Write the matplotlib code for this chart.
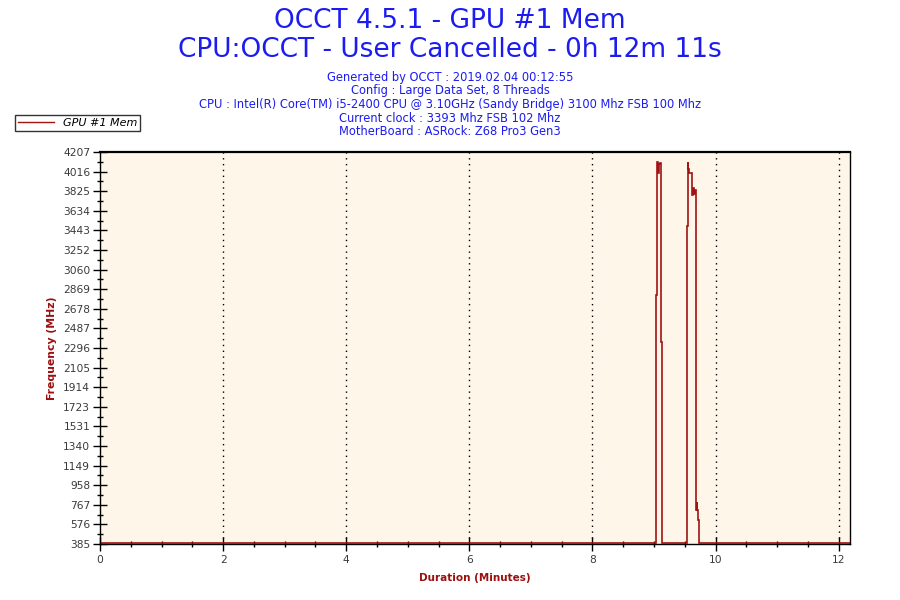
import matplotlib
matplotlib.use("Agg")
import matplotlib.pyplot as plt
from matplotlib.ticker import MultipleLocator, FixedLocator
from matplotlib.lines import Line2D

# ---- data ----
time_min = [0.0, 9.027, 9.044, 9.060, 9.076, 9.092, 9.109, 9.125,
            9.530, 9.546, 9.556, 9.562, 9.611, 9.620, 9.627, 9.643, 9.659,
            9.676, 9.686, 9.692, 9.702, 9.708, 9.724, 12.183]
freq_mhz = [395, 2813, 4110, 4000, 4090, 4100, 2357, 395,
            3484, 4113, 4038, 4000, 3870, 3790, 3860, 3800, 3840,
            814, 717, 790, 720, 618, 395, 395]

y_ticks = [385, 576, 767, 958, 1149, 1340, 1531, 1723, 1914, 2105, 2296,
           2487, 2678, 2869, 3060, 3252, 3443, 3634, 3825, 4016, 4207]
x_ticks = [0, 2, 4, 6, 8, 10, 12]
x_max = 12.183

title1 = "OCCT 4.5.1 - GPU #1 Mem"
title2 = "CPU:OCCT - User Cancelled - 0h 12m 11s"
info_lines = [
    "Generated by OCCT : 2019.02.04 00:12:55",
    "Config : Large Data Set, 8 Threads",
    "CPU : Intel(R) Core(TM) i5-2400 CPU @ 3.10GHz (Sandy Bridge) 3100 Mhz FSB 100 Mhz",
    "Current clock : 3393 Mhz FSB 102 Mhz",
    "MotherBoard : ASRock: Z68 Pro3 Gen3",
]
series_name = "GPU #1 Mem"

# ---- style ----
line_color = "#A01414"
label_color = "#9B1010"
text_blue = "#1C1CF0"
bg_color = "#FEF6E8"

plt.rcParams['font.family'] = ['DejaVu Sans']
fig = plt.figure(figsize=(9, 6), dpi=100)
fig.patch.set_facecolor("white")

W, H = 900, 600
left, right, top, bottom = 100, 850, 152, 544
ax = fig.add_axes([left / W, 1 - bottom / H, (right - left) / W, (bottom - top) / H])
ax.set_facecolor(bg_color)

ax.plot(time_min, freq_mhz, color=line_color, lw=1.2, drawstyle="steps-post",
        solid_joinstyle="miter")

ax.set_xlim(0, x_max)
ax.set_ylim(y_ticks[0], y_ticks[-1])

ax.xaxis.set_major_locator(FixedLocator(x_ticks))
ax.xaxis.set_minor_locator(MultipleLocator(0.5))
ax.yaxis.set_major_locator(FixedLocator(y_ticks))
step = (y_ticks[-1] - y_ticks[0]) / (len(y_ticks) - 1)
ax.yaxis.set_minor_locator(FixedLocator([y_ticks[0] + step * (i + 0.5)
                                          for i in range(len(y_ticks) - 1)]))

ax.tick_params(axis="both", which="major", direction="inout", length=10,
               width=1, color="black", labelsize=7.7, labelcolor="#3A3A3A")
ax.tick_params(axis="both", which="minor", direction="inout", length=5,
               width=1, color="black")
ax.tick_params(axis="x", which="major", pad=3)
ax.tick_params(axis="y", which="major", pad=2)
ax.tick_params(top=False, right=False, which="both")

for s in ax.spines.values():
    s.set_color("black")
    s.set_linewidth(1.0)
ax.spines["top"].set_linewidth(1.6)

for xv in x_ticks[1:]:
    ax.axvline(xv, color="black", lw=1.0, ls=(0, (1, 3.2)), zorder=1)

ax.set_xlabel("Duration (Minutes)", color=label_color, fontsize=7.5,
              fontweight="bold", labelpad=6)
ax.set_ylabel("Frequency (MHz)", color=label_color, fontsize=7.8,
              fontweight="bold", labelpad=4)

# titles
fig.text(0.5, 1 - 21 / H, title1, ha="center", va="center", fontsize=19,
         color=text_blue)
fig.text(0.5, 1 - 50 / H, title2, ha="center", va="center", fontsize=19,
         color=text_blue)
for i, t in enumerate(info_lines):
    fig.text(0.5, 1 - (77 + i * 13.7) / H, t, ha="center", va="center",
             fontsize=8.3, color=text_blue)

# legend
handle = Line2D([], [], color=line_color, lw=1.0)
leg = fig.legend([handle], [series_name], loc="upper left",
                 bbox_to_anchor=(15 / W, 1 - 115 / H), frameon=True,
                 fancybox=False, prop={"size": 8, "style": "italic"},
                 borderpad=0.25, handlelength=3.3, handletextpad=0.8,
                 borderaxespad=0)
leg.get_frame().set_edgecolor("black")
leg.get_frame().set_linewidth(1.0)

fig.savefig("out.png", dpi=100, facecolor="white")
